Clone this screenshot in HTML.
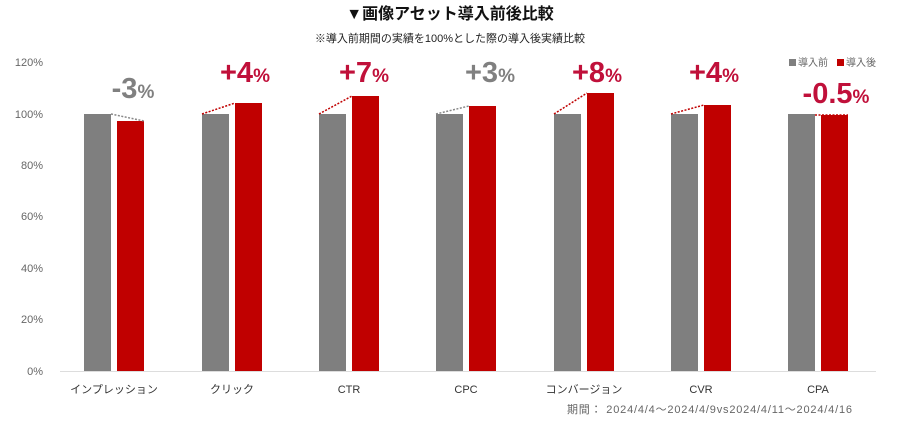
<!DOCTYPE html>
<html><head><meta charset="utf-8"><style>
body{margin:0;background:#fff;}
svg text{font-family:"Liberation Sans","Noto Sans CJK JP",sans-serif;}
</style></head><body>
<svg width="900" height="423" xmlns="http://www.w3.org/2000/svg">
<text x="450" y="19" text-anchor="middle" font-size="16" font-weight="bold" fill="#111">▼画像アセット導入前後比較</text>
<text x="450" y="42" text-anchor="middle" font-size="11" fill="#222">※導入前期間の実績を100%とした際の導入後実績比較</text>
<g font-size="11" fill="#666" text-anchor="end">
<text x="43" y="66">120%</text><text x="43" y="118">100%</text><text x="43" y="169">80%</text>
<text x="43" y="220">60%</text><text x="43" y="272">40%</text><text x="43" y="323">20%</text><text x="43" y="375">0%</text>
</g>
<line x1="60" y1="371.5" x2="876" y2="371.5" stroke="#ddd"/>
<g id="bars">
<rect x="84" y="114" width="27" height="257" fill="#7f7f7f"/><rect x="117" y="121" width="27" height="250" fill="#c00000"/>
<rect x="202" y="114" width="27" height="257" fill="#7f7f7f"/><rect x="235" y="103" width="27" height="268" fill="#c00000"/>
<rect x="319" y="114" width="27" height="257" fill="#7f7f7f"/><rect x="352" y="96" width="27" height="275" fill="#c00000"/>
<rect x="436" y="114" width="27" height="257" fill="#7f7f7f"/><rect x="469" y="106" width="27" height="265" fill="#c00000"/>
<rect x="554" y="114" width="27" height="257" fill="#7f7f7f"/><rect x="587" y="93" width="27" height="278" fill="#c00000"/>
<rect x="671" y="114" width="27" height="257" fill="#7f7f7f"/><rect x="704" y="105" width="27" height="266" fill="#c00000"/>
<rect x="788" y="114" width="27" height="257" fill="#7f7f7f"/><rect x="821" y="115" width="27" height="256" fill="#c00000"/>
</g>
<g stroke-dasharray="2,1.5" stroke-width="1.5">
<line x1="111" y1="114" x2="144" y2="121" stroke="#888"/>
<line x1="202" y1="114" x2="235" y2="103" stroke="#c00000"/>
<line x1="319" y1="114" x2="352" y2="96" stroke="#c00000"/>
<line x1="436" y1="114" x2="469" y2="106" stroke="#888"/>
<line x1="554" y1="114" x2="587" y2="93" stroke="#c00000"/>
<line x1="671" y1="114" x2="704" y2="105" stroke="#c00000"/>
<line x1="815" y1="115" x2="848" y2="115" stroke="#c00000"/>
</g>
<g font-weight="bold" font-size="29" text-anchor="middle">
<text x="133" y="98" fill="#808080">-3<tspan font-size="19">%</tspan></text>
<text x="245" y="82" fill="#c0103a">+4<tspan font-size="19">%</tspan></text>
<text x="364" y="82" fill="#c0103a">+7<tspan font-size="19">%</tspan></text>
<text x="490" y="82" fill="#808080">+3<tspan font-size="19">%</tspan></text>
<text x="597" y="82" fill="#c0103a">+8<tspan font-size="19">%</tspan></text>
<text x="714" y="82" fill="#c0103a">+4<tspan font-size="19">%</tspan></text>
<text x="836" y="103" fill="#c0103a">-0.5<tspan font-size="19">%</tspan></text>
</g>
<rect x="789" y="59" width="7" height="7" fill="#7f7f7f"/><text x="798" y="66" font-size="10" fill="#666">導入前</text>
<rect x="837" y="59" width="7" height="7" fill="#c00000"/><text x="846" y="66" font-size="10" fill="#666">導入後</text>
<g font-size="11" fill="#333" text-anchor="middle">
<text x="114" y="393">インプレッション</text><text x="232" y="393">クリック</text><text x="349" y="393">CTR</text>
<text x="466" y="393">CPC</text><text x="584" y="393">コンバージョン</text><text x="701" y="393">CVR</text><text x="818" y="393">CPA</text>
</g>
<text x="567" y="413" font-size="11" fill="#666" textLength="285">期間：  2024/4/4～2024/4/9vs2024/4/11～2024/4/16</text>
</svg>
</body></html>
